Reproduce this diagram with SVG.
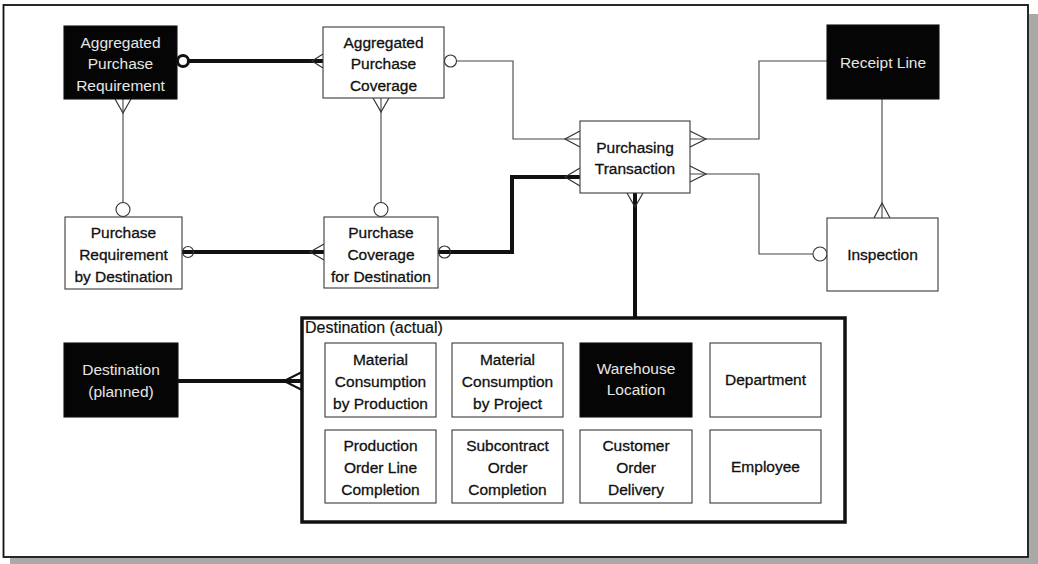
<svg xmlns="http://www.w3.org/2000/svg" width="1038" height="564" viewBox="0 0 1038 564">
  <defs>
    <style>
      .frame { fill: #ffffff; stroke: #111111; stroke-width: 1.8; }
      .shadow { fill: #a9a9a9; }
      .ent { fill: #ffffff; stroke: #3a3a3a; stroke-width: 1.1; }
      .ent-dark { fill: #050505; stroke: #111111; stroke-width: 1.1; }
      .txt { font-family: "Liberation Sans", Arial, sans-serif; font-size: 15.5px; fill: #111111; stroke: #111111; stroke-width: 0.3; text-anchor: middle; }
      .txt-light { font-family: "Liberation Sans", Arial, sans-serif; font-size: 15.5px; fill: #e6e6e6; text-anchor: middle; }
      .title { font-family: "Liberation Sans", Arial, sans-serif; font-size: 16px; fill: #111111; stroke: #111111; stroke-width: 0.2; }
      .thin { fill: none; stroke: #444444; stroke-width: 1.1; }
      .thick { fill: none; stroke: #111111; stroke-width: 4; }
      .foot { fill: none; stroke: #333333; stroke-width: 1.2; }
      .foot-bold { fill: none; stroke: #111111; stroke-width: 2; }
      .opt { fill: #ffffff; stroke: #333333; stroke-width: 1.1; }
      .supertype { fill: #ffffff; stroke: #111111; stroke-width: 3.5; }
    </style>
  </defs>

  <!-- page frame with drop shadow -->
  <rect class="shadow" x="1029" y="14" width="9" height="550"/>
  <rect class="shadow" x="10" y="558" width="1028" height="6"/>
  <rect class="frame" x="3.5" y="5" width="1024.5" height="552"/>

  <!-- relationship lines -->
  <g id="connectors">
    <!-- Aggregated Purchase Requirement : Aggregated Purchase Coverage -->
    <line class="thick" x1="188" y1="61" x2="323" y2="61"/>
    <circle cx="183" cy="61" r="5.5" fill="#ffffff" stroke="#111111" stroke-width="3"/>
    <path class="foot" d="M323,54 L312,61 L323,68"/>

    <!-- Aggregated Purchase Requirement : Purchase Requirement by Destination -->
    <line class="thin" x1="123" y1="99" x2="123" y2="202"/>
    <path class="foot" d="M115,99 L123,113 L131,99"/>
    <circle class="opt" cx="123" cy="209.5" r="7"/>

    <!-- Aggregated Purchase Coverage : Purchase Coverage for Destination -->
    <line class="thin" x1="381" y1="98" x2="381" y2="202" stroke-width="1.4"/>
    <path class="foot" d="M373,98 L381,112 L389,98"/>
    <circle class="opt" cx="381" cy="209.5" r="7"/>

    <!-- Purchase Requirement by Destination : Purchase Coverage for Destination -->
    <line class="thick" x1="182" y1="252" x2="324" y2="252"/>
    <circle cx="188" cy="252" r="5.5" fill="none" stroke="#333333" stroke-width="1.2"/>
    <path class="foot" d="M324,244 L310,252 L324,260"/>

    <!-- Purchase Coverage for Destination : Purchasing Transaction -->
    <path class="thick" d="M438,252 L512,252 L512,177 L580,177"/>
    <circle cx="444.5" cy="252" r="6" fill="none" stroke="#333333" stroke-width="1.2"/>
    <path class="foot" d="M580,168 L565,177 L580,186"/>

    <!-- Aggregated Purchase Coverage : Purchasing Transaction -->
    <circle class="opt" cx="450.5" cy="61" r="6"/>
    <path class="thin" d="M456.5,61 L513,61 L513,139 L580,139"/>
    <path class="foot" d="M580,131 L565,139 L580,147"/>

    <!-- Receipt Line : Purchasing Transaction -->
    <path class="thin" d="M827,61 L759,61 L759,139 L690,139"/>
    <path class="foot" d="M690,131 L706,139 L690,147"/>

    <!-- Purchasing Transaction : Inspection -->
    <path class="thin" d="M690,174 L759,174 L759,254 L813,254"/>
    <path class="foot" d="M690,166 L706,174 L690,182"/>
    <circle class="opt" cx="820" cy="254" r="7"/>

    <!-- Receipt Line : Inspection -->
    <line class="thin" x1="882" y1="99" x2="882" y2="218"/>
    <path class="foot" d="M874,218 L882,203 L890,218"/>

    <!-- Purchasing Transaction : Destination (actual) -->
    <line class="thick" x1="635" y1="193" x2="635" y2="318"/>
    <path class="foot" d="M627,193 L635,207 L643,193"/>

    <!-- Destination (planned) : Destination (actual) -->
    <line class="thick" x1="178" y1="381" x2="302" y2="381"/>
    <path class="foot-bold" d="M302,372 L284,381 L302,390"/>
  </g>

  <!-- entities -->
  <g id="aggregated-purchase-requirement">
    <rect class="ent-dark" x="64" y="26" width="113" height="73"/>
    <text class="txt-light" x="120.5" y="47.5">Aggregated</text>
    <text class="txt-light" x="120.5" y="69">Purchase</text>
    <text class="txt-light" x="120.5" y="90.5">Requirement</text>
  </g>

  <g id="aggregated-purchase-coverage">
    <rect class="ent" x="323" y="27" width="121" height="71"/>
    <text class="txt" x="383.5" y="47.5">Aggregated</text>
    <text class="txt" x="383.5" y="69">Purchase</text>
    <text class="txt" x="383.5" y="90.5">Coverage</text>
  </g>

  <g id="receipt-line">
    <rect class="ent-dark" x="827" y="25" width="112" height="74"/>
    <text class="txt-light" x="883" y="67.5">Receipt Line</text>
  </g>

  <g id="purchasing-transaction">
    <rect class="ent" x="580" y="121" width="110" height="72"/>
    <text class="txt" x="635" y="152.5">Purchasing</text>
    <text class="txt" x="635" y="174">Transaction</text>
  </g>

  <g id="purchase-requirement-by-destination">
    <rect class="ent" x="65" y="217" width="117" height="72"/>
    <text class="txt" x="123.5" y="237.5">Purchase</text>
    <text class="txt" x="123.5" y="259.5">Requirement</text>
    <text class="txt" x="123.5" y="281.5">by Destination</text>
  </g>

  <g id="purchase-coverage-for-destination">
    <rect class="ent" x="324" y="217" width="114" height="71"/>
    <text class="txt" x="381" y="237.5">Purchase</text>
    <text class="txt" x="381" y="259.5">Coverage</text>
    <text class="txt" x="381" y="281.5">for Destination</text>
  </g>

  <g id="inspection">
    <rect class="ent" x="827" y="218" width="111" height="73"/>
    <text class="txt" x="882.5" y="259.5">Inspection</text>
  </g>

  <g id="destination-planned">
    <rect class="ent-dark" x="64" y="343" width="114" height="74"/>
    <text class="txt-light" x="121" y="374.5">Destination</text>
    <text class="txt-light" x="121" y="396.5">(planned)</text>
  </g>

  <!-- supertype with its subtypes -->
  <g id="destination-actual">
    <rect class="supertype" x="302" y="318" width="543" height="204"/>
    <text class="title" x="305" y="333">Destination (actual)</text>

    <g id="material-consumption-by-production">
      <rect class="ent" x="325" y="343" width="111" height="74"/>
      <text class="txt" x="380.5" y="364.5">Material</text>
      <text class="txt" x="380.5" y="386.5">Consumption</text>
      <text class="txt" x="380.5" y="408.5">by Production</text>
    </g>
    <g id="material-consumption-by-project">
      <rect class="ent" x="452" y="343" width="111" height="74"/>
      <text class="txt" x="507.5" y="364.5">Material</text>
      <text class="txt" x="507.5" y="386.5">Consumption</text>
      <text class="txt" x="507.5" y="408.5">by Project</text>
    </g>
    <g id="warehouse-location">
      <rect class="ent-dark" x="580" y="343" width="112" height="74"/>
      <text class="txt-light" x="636" y="373.5">Warehouse</text>
      <text class="txt-light" x="636" y="394.5">Location</text>
    </g>
    <g id="department">
      <rect class="ent" x="710" y="343" width="111" height="74"/>
      <text class="txt" x="765.5" y="385">Department</text>
    </g>
    <g id="production-order-line-completion">
      <rect class="ent" x="325" y="430" width="111" height="73"/>
      <text class="txt" x="380.5" y="450.5">Production</text>
      <text class="txt" x="380.5" y="472.5">Order Line</text>
      <text class="txt" x="380.5" y="494.5">Completion</text>
    </g>
    <g id="subcontract-order-completion">
      <rect class="ent" x="452" y="430" width="111" height="73"/>
      <text class="txt" x="507.5" y="450.5">Subcontract</text>
      <text class="txt" x="507.5" y="472.5">Order</text>
      <text class="txt" x="507.5" y="494.5">Completion</text>
    </g>
    <g id="customer-order-delivery">
      <rect class="ent" x="580" y="430" width="112" height="73"/>
      <text class="txt" x="636" y="450.5">Customer</text>
      <text class="txt" x="636" y="472.5">Order</text>
      <text class="txt" x="636" y="494.5">Delivery</text>
    </g>
    <g id="employee">
      <rect class="ent" x="710" y="430" width="111" height="73"/>
      <text class="txt" x="765.5" y="471.5">Employee</text>
    </g>
  </g>
</svg>
